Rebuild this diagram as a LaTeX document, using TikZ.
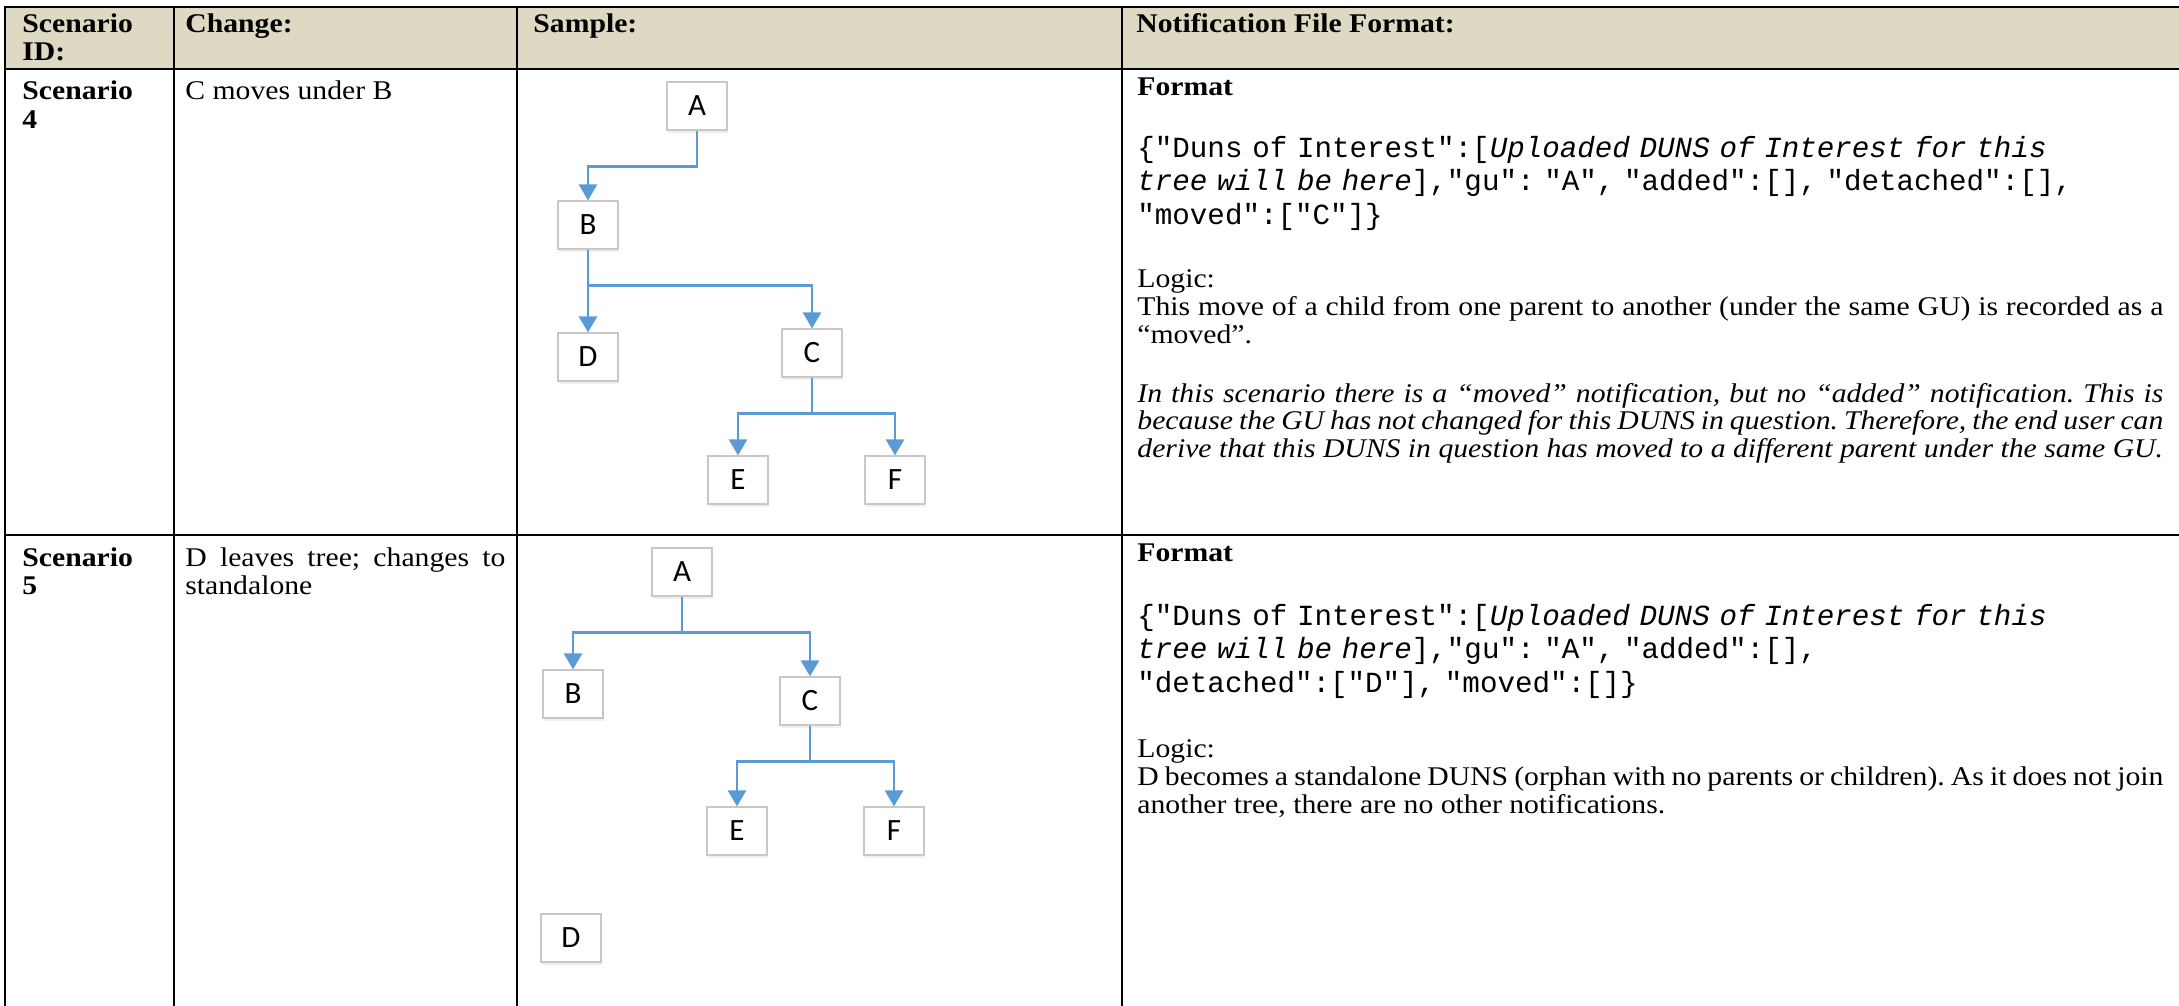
\documentclass[tikz,border=0pt]{standalone}
\usepackage{fontspec}
\setmainfont[FakeStretch=1.1]{Liberation Serif}
\setmonofont{Liberation Mono}
\newfontfamily\boxfont{Carlito}
\usepackage{tikz}
\usetikzlibrary{calc,arrows.meta,positioning,shadows}
\setlength{\parindent}{0pt}
\frenchspacing
\newcommand\bodyfont{\fontsize{13.5}{14}\selectfont\setlength{\normalbaselineskip}{14pt}}
\newcommand\notefont{\fontsize{13.5}{13.75}\selectfont\setlength{\normalbaselineskip}{13.75pt}\itshape}
\newcommand\jsonfont{\fontsize{14.6}{16.75}\selectfont\setlength{\normalbaselineskip}{16.75pt}\ttfamily}
\definecolor{headtan}{HTML}{DDD9C3}
\definecolor{linkblue}{HTML}{5B9BD5}
\definecolor{boxgray}{HTML}{C8C8C8}
\tikzset{
  rule/.style={line width=1pt},
  cell/.style={anchor=base west,inner sep=0pt,font=\bodyfont},
  cellbf/.style={cell,font=\bodyfont\bfseries},
  idcell/.style={cellbf,text width=71pt,align=justify},
  para/.style={cell,text width=513pt,align=justify},
  code/.style={anchor=base west,inner sep=0pt,text width=600pt,align=left,font=\jsonfont},
  tbox/.style={draw=boxgray,line width=0.6pt,fill=white,minimum width=30pt,
    minimum height=24pt,inner sep=0pt,font=\boxfont\fontsize{15.5}{18}\selectfont,
    drop shadow={opacity=0.12,shadow xshift=0.4pt,shadow yshift=-1.6pt}},
  link/.style={draw=linkblue,line width=1.4pt,-{Triangle[width=9pt,length=8pt]}},
  elbow/.style={to path={(\tikztostart) -- ++(0,36) -| (\tikztotarget)}}
}

\begin{document}
\begin{tikzpicture}[x=0.5pt,y=-0.5pt]
\useasboundingbox (0,0) rectangle (2179,1006);
% table frame
\fill[headtan] (4,7) rectangle (2179,69);
\foreach \ry in {7,69,535} \draw[rule] (4,\ry) -- (2179,\ry);
\foreach \cx in {5,174,517,1122} \draw[rule] (\cx,7) -- (\cx,1006);

% header
\node[idcell] (hid) at (22,33) {Scenario\\ID:};
\node[cellbf] (hchg) at (185,33) {Change:};
\node[cellbf] (hsmp) at (533,33) {Sample:};
\node[cellbf] (hfmt) at (1136,33) {Notification File Format:};

% scenario 4
\node[idcell] (id4) at (22,100) {Scenario\\4};
\node[cell] (chg4) at (185,100) {C moves under B};
\node[cellbf] (fmt4) at (1137,96) {Format};
\node[code] (json4) at (1137,157) {\{"Duns of Interest":[\textit{Uploaded DUNS of Interest for this}\\\textit{tree will be here}],"gu": "A", "added":[], "detached":[],\\"moved":["C"]\}};
\node[para] (logic4) at (1137,287) {Logic:\\This move of a child from one parent to another (under the same GU) is recorded as a\linebreak “moved”.};
\node[para,font=\notefont] (note4) at (1137,402) {In this scenario there is a “moved” notification, but no “added” notification. This is\linebreak because the GU has not changed for this DUNS in question. Therefore, the end user can\linebreak derive that this DUNS in question has moved to a different parent under the same GU.\parfillskip=0pt};

\node[tbox] (a4) at (697,106) {A};
\node[tbox] (b4) at (588,225) {B};
\node[tbox] (d4) at (588,357) {D};
\node[tbox] (c4) at (812,353) {C};
\node[tbox] (e4) at (738,480) {E};
\node[tbox] (f4) at (895,480) {F};
\draw[link] (a4.south) to[elbow] (b4.north);
\draw[link] (b4.south) to[elbow] (d4.north);
\draw[link] (b4.south) to[elbow] (c4.north);
\draw[link] (c4.south) to[elbow] (e4.north);
\draw[link] (c4.south) to[elbow] (f4.north);

% scenario 5
\node[idcell] (id5) at (22,566) {Scenario\\5};
\node[cell,text width=160pt,align=justify] (chg5) at (185,566) {D leaves tree; changes to\linebreak standalone};
\node[cellbf] (fmt5) at (1137,561) {Format};
\node[code] (json5) at (1137,625) {\{"Duns of Interest":[\textit{Uploaded DUNS of Interest for this}\\\textit{tree will be here}],"gu": "A", "added":[],\\"detached":["D"], "moved":[]\}};
\node[para] (logic5) at (1137,757) {Logic:\\D becomes a standalone DUNS (orphan with no parents or children). As it does not join\linebreak another tree, there are no other notifications.};

\node[tbox] (a5) at (682,572) {A};
\node[tbox] (b5) at (573,694) {B};
\node[tbox] (c5) at (810,701) {C};
\node[tbox] (e5) at (737,831) {E};
\node[tbox] (f5) at (894,831) {F};
\node[tbox] (d5) at (571,938) {D};
\draw[link] (a5.south) to[elbow] (b5.north);
\draw[link] (a5.south) to[elbow] (c5.north);
\draw[link] (c5.south) to[elbow] (e5.north);
\draw[link] (c5.south) to[elbow] (f5.north);
\end{tikzpicture}
\end{document}
